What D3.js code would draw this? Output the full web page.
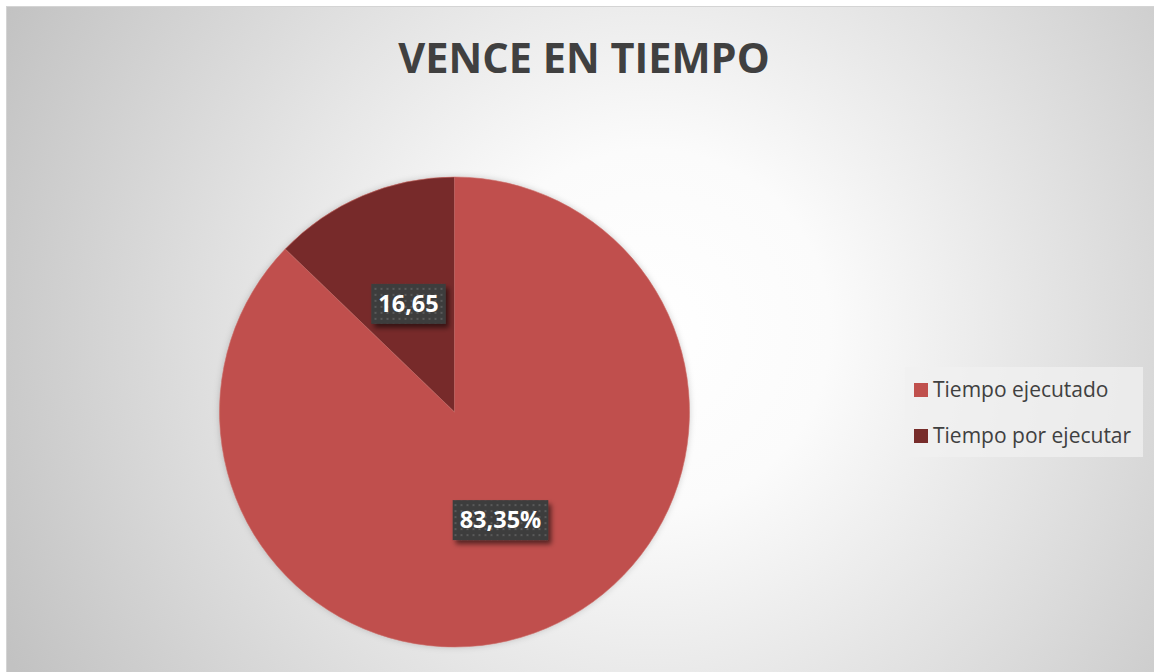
<!DOCTYPE html>
<html>
<head>
<meta charset="utf-8">
<script src="https://cdn.jsdelivr.net/npm/d3@7"></script>
<style>
  html, body { margin: 0; padding: 0; background: #ffffff; }
  svg { display: block; }
</style>
</head>
<body>
<svg id="chart" width="1154" height="672"></svg>
<script>
// ---- data ----
const categories = ["Tiempo ejecutado", "Tiempo por ejecutar"];
const sliceShares = [87.2, 12.8];          // angular shares as drawn
const labelTexts = ["83,35%", "16,65"];     // data labels as printed
const titleText = "VENCE EN TIEMPO";
const colors = ["#C0504D", "#772C2A"];

const svg = d3.select("#chart");
const W = 1154, H = 672;
const defs = svg.append("defs");

// background radial gradient
const rg = defs.append("radialGradient").attr("id", "bg")
  .attr("gradientUnits", "userSpaceOnUse")
  .attr("cx", 650).attr("cy", 330).attr("r", 720);
rg.append("stop").attr("offset", "0%").attr("stop-color", "#ffffff");
rg.append("stop").attr("offset", "25%").attr("stop-color", "#fbfbfb");
rg.append("stop").attr("offset", "100%").attr("stop-color", "#c2c2c2");

// dotted pattern for label boxes
const pat = defs.append("pattern").attr("id", "dots")
  .attr("patternUnits", "userSpaceOnUse").attr("width", 6).attr("height", 6);
pat.append("rect").attr("width", 6).attr("height", 6).attr("fill", "#3d3d3d");
pat.append("rect").attr("x", 2).attr("y", 2).attr("width", 2).attr("height", 2).attr("fill", "#5a5a5a");

// shadow filters
const sh = defs.append("filter").attr("id", "lblShadow")
  .attr("x", "-30%").attr("y", "-30%").attr("width", "160%").attr("height", "180%");
sh.append("feDropShadow").attr("dx", 3).attr("dy", 4).attr("stdDeviation", 2.5)
  .attr("flood-color", "#000").attr("flood-opacity", 0.55);

const psh = defs.append("filter").attr("id", "pieShadow")
  .attr("x", "-10%").attr("y", "-10%").attr("width", "120%").attr("height", "120%");
psh.append("feDropShadow").attr("dx", 0).attr("dy", 0).attr("stdDeviation", 3)
  .attr("flood-color", "#000").attr("flood-opacity", 0.18);

// chart area
svg.append("rect").attr("x", 6.5).attr("y", 6.5).attr("width", W).attr("height", H)
  .attr("fill", "url(#bg)").attr("stroke", "#d4d4d4").attr("stroke-width", 1);

// title
svg.append("text").attr("x", 584).attr("y", 73)
  .attr("text-anchor", "middle")
  .attr("font-family", "'Open Sans', 'Noto Sans', sans-serif")
  .attr("font-weight", 700).attr("font-size", 41.5)
  .attr("fill", "#404040").text(titleText);

// pie
const cx = 454.5, cy = 412, r = 235;
const pie = d3.pie().sort(null).value(d => d)(sliceShares);
const arc = d3.arc().innerRadius(0).outerRadius(r);
const labelArc = d3.arc().innerRadius(r * 0.5).outerRadius(r * 0.5);

const g = svg.append("g").attr("transform", `translate(${cx},${cy})`);
g.append("g").attr("filter", "url(#pieShadow)")
  .selectAll("path").data(pie).join("path")
  .attr("d", arc)
  .attr("fill", (d, i) => colors[i])
  .attr("stroke", "#c96a67").attr("stroke-width", 0.6);

// labels
const lbl = g.selectAll("g.lbl").data(pie).join("g").attr("class", "lbl")
  .attr("transform", d => `translate(${labelArc.centroid(d)})`);
lbl.each(function(d, i) {
  const sel = d3.select(this);
  const t = sel.append("text")
    .attr("text-anchor", "middle").attr("dy", "0.35em")
    .attr("font-family", "'Open Sans', 'Noto Sans', sans-serif")
    .attr("font-weight", 700).attr("font-size", 23.5)
    .attr("fill", "#ffffff").text(labelTexts[i]);
  const bb = t.node().getBBox();
  sel.insert("rect", "text")
    .attr("x", bb.x - 7).attr("y", -20)
    .attr("width", bb.width + 14).attr("height", 40)
    .attr("fill", "url(#dots)")
    .attr("filter", "url(#lblShadow)");
});

// legend
svg.append("rect").attr("x", 905).attr("y", 367).attr("width", 238).attr("height", 90)
  .attr("fill", "#f0f0f0").attr("opacity", 0.75);
const leg = svg.selectAll("g.leg").data(categories).join("g").attr("class", "leg")
  .attr("transform", (d, i) => `translate(914, ${383 + i * 46})`);
leg.append("rect").attr("width", 14).attr("height", 14)
  .attr("fill", (d, i) => colors[i]);
leg.append("text").attr("x", 19).attr("y", 7).attr("dy", "0.35em")
  .attr("font-family", "'Open Sans', 'Noto Sans', sans-serif")
  .attr("font-size", 21).attr("fill", "#404040").text(d => d);
</script>
</body>
</html>
